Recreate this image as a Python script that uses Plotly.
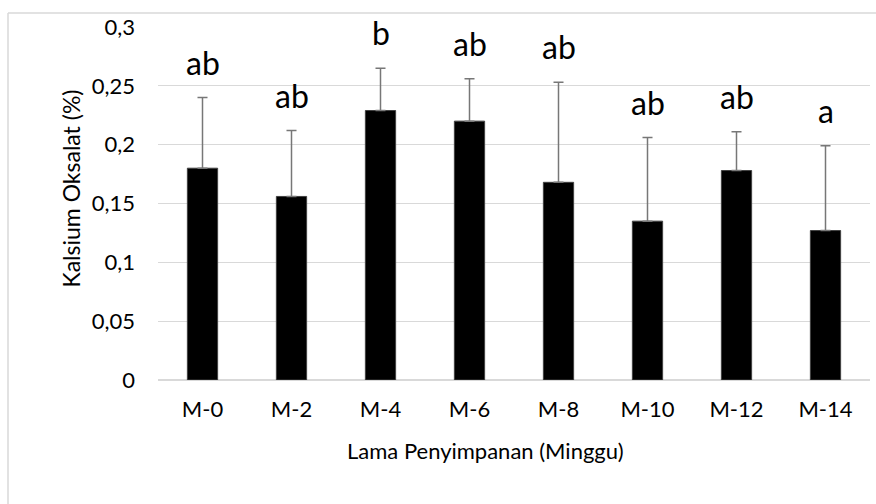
import plotly.graph_objects as go

categories = ["M-0", "M-2", "M-4", "M-6", "M-8", "M-10", "M-12", "M-14"]
kalsium_oksalat = [0.180, 0.156, 0.229, 0.220, 0.168, 0.135, 0.178, 0.127]
error_upper = [0.060, 0.056, 0.036, 0.036, 0.085, 0.071, 0.033, 0.072]
notasi = ["ab", "ab", "b", "ab", "ab", "ab", "ab", "a"]
y_ticks = [0, 0.05, 0.1, 0.15, 0.2, 0.25, 0.3]
y_tick_labels = ["0", "0,05", "0,1", "0,15", "0,2", "0,25", "0,3"]

FONT = "Lato"
W, H = 876, 504
ML, MR, MT, MB = 158, 6, 27, 124
pw, ph = W - ML - MR, H - MT - MB

def px_x(x):
    return (x - ML) / pw

def px_y(y):
    return (H - MB - y) / ph

fig = go.Figure()
fig.add_trace(go.Bar(
    x=categories,
    y=kalsium_oksalat,
    marker=dict(color="#000000", line=dict(color="#404040", width=1)),
    width=0.34,
    error_y=dict(type="data", symmetric=False, array=error_upper,
                 arrayminus=[0] * len(error_upper),
                 color="#777777", thickness=1.5, width=5),
    showlegend=False,
    hoverinfo="skip",
))

for c, v, e, t in zip(categories, kalsium_oksalat, error_upper, notasi):
    fig.add_annotation(x=c, y=v + e, text=t, showarrow=False,
                       yanchor="bottom", yshift=14,
                       font=dict(family=FONT, size=32, color="#000000"))

# axis titles
fig.add_annotation(xref="paper", yref="paper", x=px_x(70.5), y=px_y(189),
                   text="Kalsium Oksalat (%)", textangle=-90, showarrow=False,
                   xanchor="center", yanchor="middle",
                   font=dict(family=FONT, size=23, color="#000000"))
fig.add_annotation(xref="paper", yref="paper", x=px_x(485), y=px_y(451),
                   text="Lama Penyimpanan (Minggu)", showarrow=False,
                   xanchor="center", yanchor="middle",
                   font=dict(family=FONT, size=22, color="#000000"))

# chart border (left and top visible)
fig.add_shape(type="line", xref="paper", yref="paper",
              x0=px_x(8), x1=px_x(8), y0=px_y(13), y1=px_y(510),
              line=dict(color="#d9d9d9", width=1.5))
fig.add_shape(type="line", xref="paper", yref="paper",
              x0=px_x(8), x1=px_x(880), y0=px_y(13), y1=px_y(13),
              line=dict(color="#d9d9d9", width=1.5))

fig.update_layout(
    width=W, height=H,
    margin=dict(l=ML, r=MR, t=MT, b=MB, autoexpand=False),
    paper_bgcolor="white", plot_bgcolor="white",
    font=dict(family=FONT, size=22, color="#000000"),
    bargap=0.66,
)
fig.update_xaxes(showgrid=False, showline=False, ticks="",
                 tickfont=dict(family=FONT, size=22, color="#000000"),
                 ticklabelstandoff=14)
fig.update_yaxes(range=[0, 0.3], tickvals=y_ticks, ticktext=y_tick_labels,
                 showgrid=True, gridcolor="#d9d9d9", gridwidth=1,
                 zeroline=True, zerolinecolor="#d9d9d9", zerolinewidth=1.5,
                 showline=False, ticks="",
                 tickfont=dict(family=FONT, size=22, color="#000000"),
                 ticklabelstandoff=22)

fig.write_html("out.html",
               config={"displayModeBar": False},
               post_script="document.body.style.margin='0';"
                           "document.body.style.overflow='hidden';")
